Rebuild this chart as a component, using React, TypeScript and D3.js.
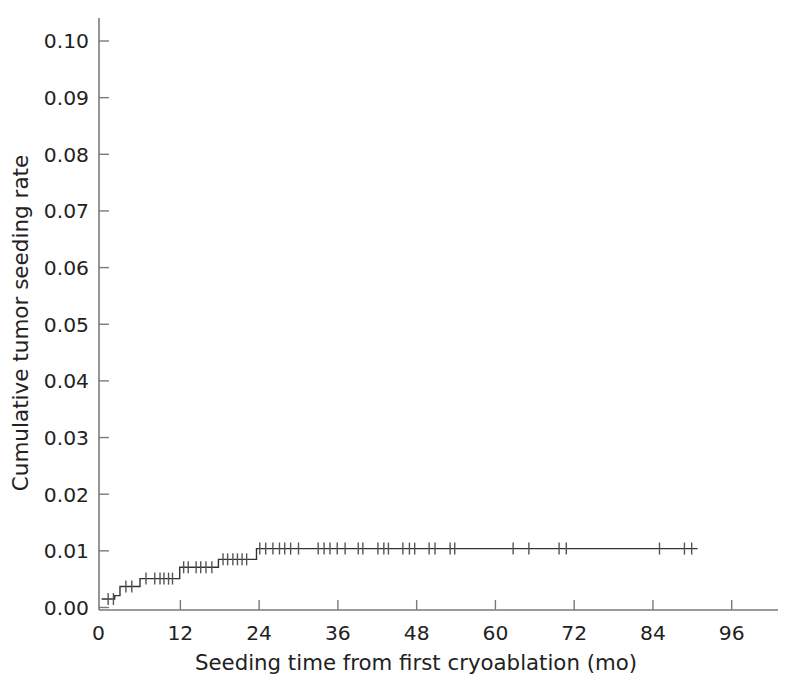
import React from "react";
import * as d3 from "d3";

// Kaplan-Meier style cumulative curve: event times and the cumulative rate after each event
const eventTimes = [0, 2.0, 2.8, 5.85, 11.9, 17.8, 23.6];
const cumRates = [0.0015, 0.0021, 0.0037, 0.0051, 0.0071, 0.0085, 0.0104];
const endTime = 90.8;

// censored observations (months)
const censorTimes = [
  1.0, 1.8, 3.7, 4.6, 6.76, 8.1, 8.9, 9.5, 10.2, 10.8, 12.5, 13.2, 14.4, 15.1, 15.9, 16.8,
  18.5, 19.2, 20.0, 20.7, 21.4, 22.1, 24.1, 25.0, 26.1, 27.1, 27.9, 28.8, 30.0, 33.0, 33.9,
  34.8, 35.9, 37.1, 39.1, 39.8, 42.1, 43.0, 43.7, 45.9, 46.9, 47.7, 49.9, 50.8, 53.1, 53.8,
  62.7, 65.1, 69.7, 70.8, 85.0, 88.8, 89.9,
];

const xTicks = [0, 12, 24, 36, 48, 60, 72, 84, 96];
const yTicks = [0, 0.01, 0.02, 0.03, 0.04, 0.05, 0.06, 0.07, 0.08, 0.09, 0.1];

const xTitle = "Seeding time from first cryoablation (mo)";
const yTitle = "Cumulative tumor seeding rate";

const W = 787;
const H = 692;
const FONT = "'DejaVu Sans', Verdana, sans-serif";

export default function App() {
  const x = d3.scaleLinear().domain([0, 96]).range([101.6, 731.7]);
  const y = d3.scaleLinear().domain([0, 0.1]).range([607.5, 41]);

  const axisX0 = 99;
  const axisX1 = 778;
  const axisY = 610;
  const axisTop = 18;

  const rateAt = (t: number) => {
    let r = 0;
    for (let i = 0; i < eventTimes.length; i++) if (eventTimes[i] <= t) r = cumRates[i];
    return r;
  };

  const pts: [number, number][] = [];
  for (let i = 0; i < eventTimes.length; i++) pts.push([eventTimes[i], cumRates[i]]);
  pts.push([endTime, cumRates[cumRates.length - 1]]);
  const line = d3
    .line<[number, number]>()
    .x((d) => x(d[0]))
    .y((d) => y(d[1]))
    .curve(d3.curveStepAfter);

  const axisColor = "#7a7a7a";
  const textColor = "#222";
  const tickFont = 20.3;
  const titleFont = 21.5;

  return (
    <svg
      width={W}
      height={H}
      style={{ position: "absolute", left: 0, top: 0, background: "#fff" }}
      fontFamily={FONT}
    >
      <rect x={0} y={0} width={W} height={H} fill="#fff" />
      {/* axes */}
      <line x1={axisX0} x2={axisX0} y1={axisTop} y2={axisY} stroke={axisColor} strokeWidth={1.6} />
      <line x1={axisX0} x2={axisX1} y1={axisY} y2={axisY} stroke={axisColor} strokeWidth={1.6} />
      {yTicks.map((v) => (
        <g key={"y" + v}>
          <line x1={axisX0} x2={axisX0 + 10} y1={y(v)} y2={y(v)} stroke={axisColor} strokeWidth={1.4} />
          <text
            x={89}
            y={y(v)}
            dy="0.36em"
            textAnchor="end"
            fontSize={tickFont}
            fill={textColor}
          >
            {v.toFixed(2)}
          </text>
        </g>
      ))}
      {xTicks.map((v) => (
        <g key={"x" + v}>
          {v > 0 && (
            <line x1={x(v)} x2={x(v)} y1={axisY} y2={axisY - 10} stroke={axisColor} strokeWidth={1.4} />
          )}
          <text
            x={v === 0 ? 98.5 : x(v)}
            y={633}
            dy="0.36em"
            textAnchor="middle"
            fontSize={tickFont}
            fill={textColor}
          >
            {v}
          </text>
        </g>
      ))}
      {/* curve */}
      <path d={line(pts) || ""} fill="none" stroke="#333" strokeWidth={1.4} />
      {censorTimes.map((t, i) => (
        <line
          key={"c" + i}
          x1={x(t)}
          x2={x(t)}
          y1={y(rateAt(t)) - 6}
          y2={y(rateAt(t)) + 6}
          stroke="#555"
          strokeWidth={1.4}
        />
      ))}
      {/* titles */}
      <text x={416} y={662} dy="0.36em" textAnchor="middle" fontSize={21.3} fill={textColor}>
        {xTitle}
      </text>
      <text
        transform={`translate(20.5,323) rotate(-90)`}
        dy="0.36em"
        textAnchor="middle"
        fontSize={titleFont}
        fill={textColor}
      >
        {yTitle}
      </text>
    </svg>
  );
}
